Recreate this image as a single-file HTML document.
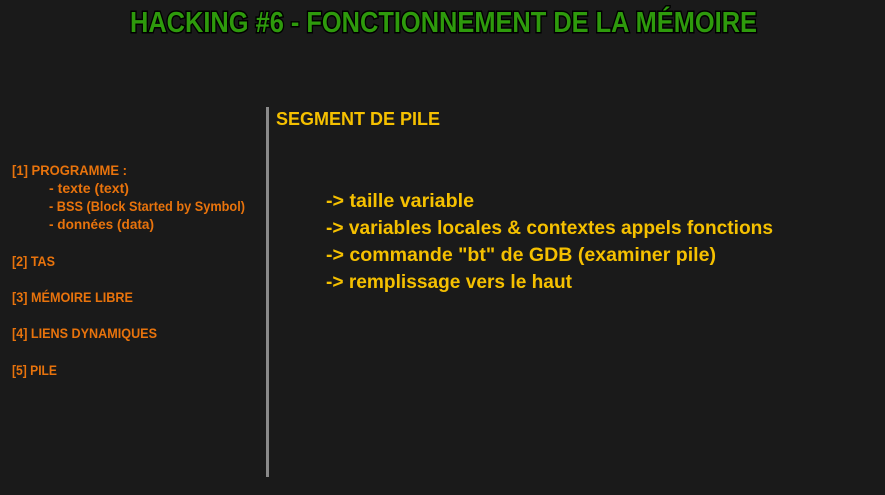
<!DOCTYPE html>
<html><head><meta charset="utf-8"><style>
html,body{margin:0;padding:0;background:#1a1a1a;}
svg{display:block}
text{font-family:"Liberation Sans",sans-serif;font-weight:bold;}
</style></head><body>
<svg width="885" height="495" viewBox="0 0 885 495">
<rect width="885" height="495" fill="#1a1a1a"/>
<text x="130" y="32" font-size="29" fill="#2e9a0c" stroke="#000" stroke-width="3" paint-order="stroke" textLength="627" lengthAdjust="spacingAndGlyphs">HACKING #6 - FONCTIONNEMENT DE LA MÉMOIRE</text>
<rect x="266" y="107" width="3" height="370" fill="#8a8a8a"/>
<g fill="#e8730c" font-size="13.5">
<text x="12" y="175" textLength="115" lengthAdjust="spacingAndGlyphs">[1] PROGRAMME :</text>
<text x="49" y="193" textLength="80" lengthAdjust="spacingAndGlyphs">- texte (text)</text>
<text x="49" y="211" textLength="196" lengthAdjust="spacingAndGlyphs">- BSS (Block Started by Symbol)</text>
<text x="49" y="229" textLength="105" lengthAdjust="spacingAndGlyphs">- données (data)</text>
<text x="12" y="266" textLength="43" lengthAdjust="spacingAndGlyphs">[2] TAS</text>
<text x="12" y="302" textLength="121" lengthAdjust="spacingAndGlyphs">[3] MÉMOIRE LIBRE</text>
<text x="12" y="338" textLength="145" lengthAdjust="spacingAndGlyphs">[4] LIENS DYNAMIQUES</text>
<text x="12" y="375" textLength="45" lengthAdjust="spacingAndGlyphs">[5] PILE</text>
</g>
<g fill="#f5c000">
<text x="276" y="125" font-size="18.5" textLength="164" lengthAdjust="spacingAndGlyphs">SEGMENT DE PILE</text>
<text x="326" y="207" font-size="19.5" textLength="148" lengthAdjust="spacingAndGlyphs">-&gt; taille variable</text>
<text x="326" y="234" font-size="19.5" textLength="447" lengthAdjust="spacingAndGlyphs">-&gt; variables locales &amp; contextes appels fonctions</text>
<text x="326" y="261" font-size="19.5" textLength="390" lengthAdjust="spacingAndGlyphs">-&gt; commande "bt" de GDB (examiner pile)</text>
<text x="326" y="288" font-size="19.5" textLength="246" lengthAdjust="spacingAndGlyphs">-&gt; remplissage vers le haut</text>
</g>
</svg>
</body></html>
